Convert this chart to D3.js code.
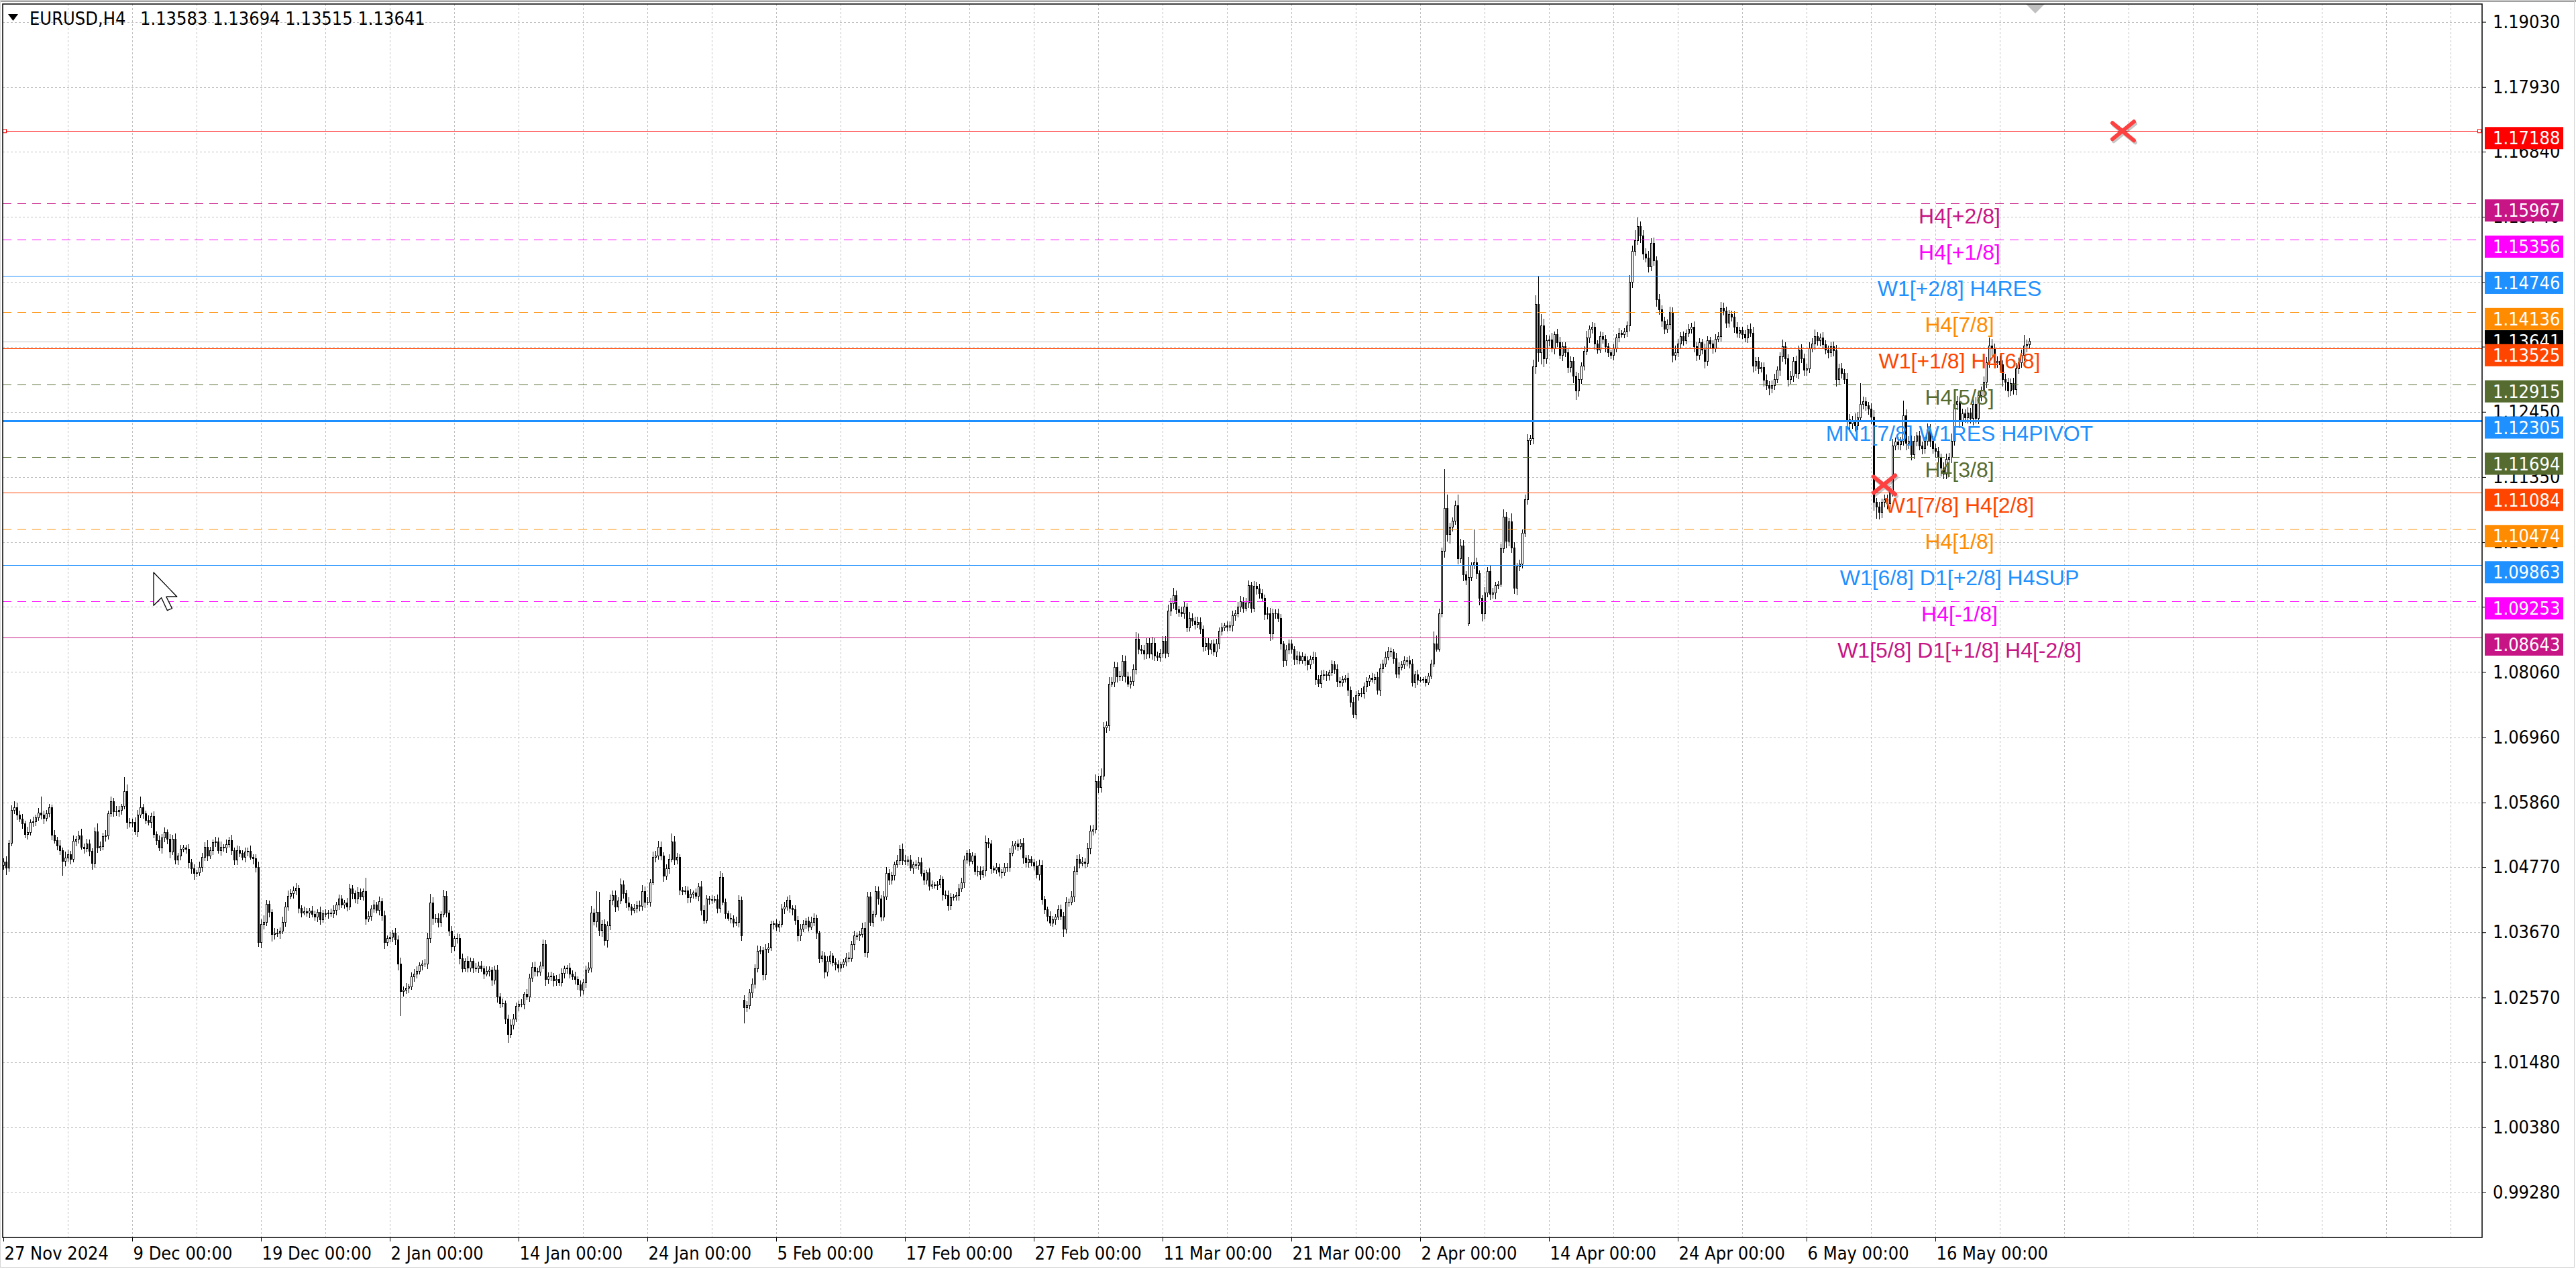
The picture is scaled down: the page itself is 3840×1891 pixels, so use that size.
<!DOCTYPE html>
<html>
<head>
<meta charset="utf-8">
<title>EURUSD,H4</title>
<script src="https://cdn.jsdelivr.net/npm/d3@7"></script>
<style>
  html, body { margin: 0; padding: 0; background: #ffffff; }
  svg { display: block; }
  .axis text, .quote { font-family: "DejaVu Sans Condensed", "Liberation Sans", sans-serif; font-size: 27px; fill: #000; }
  .lvl-text { font-family: "Liberation Sans", Arial, sans-serif; font-size: 32px; }
  .box-text { font-family: "DejaVu Sans Condensed", "Liberation Sans", sans-serif; font-size: 27px; fill: #fff; }
</style>
</head>
<body>
<div id="chart"></div>
<script>
var symbolName = "EURUSD,H4";
// open, high, low, close of the running bar (header quote)
var lastBar = [1.13583, 1.13694, 1.13515, 1.13641];
var firstOpen = 1.0480;
// opens after a weekend gap, keyed by bar number
var gapOpens = { 276: 1.0252, 546: 1.0888 };

// H4 closes in 1/10000, one row per 8 trading days (48 bars)
var closes = [
  10486,10475,10517,10573,10577,10565, 10558,10550,10532,10535,10552,10554, 10560,10568,10565,10559,10567,10577, 10531,10522,10513,10505,10487,10492, 10498,10490,10521,10524,10530,10511, 10508,10516,10504,10483,10537,10509, 10512,10529,10530,10567,10588,10570, 10571,10573,10579,10605,10552,10552,
  10552,10537,10565,10577,10567,10556, 10552,10562,10532,10522,10509,10526, 10535,10524,10502,10524,10489,10496, 10507,10509,10507,10484,10474,10466, 10467,10477,10494,10511,10496,10505, 10518,10520,10505,10511,10509,10515, 10522,10505,10489,10505,10500,10493, 10502,10504,10494,10491,10476,10350,
  10380,10384,10414,10401,10363,10365, 10365,10369,10384,10410,10428,10432, 10437,10441,10408,10400,10402,10399, 10403,10397,10393,10401,10388,10398, 10398,10400,10398,10404,10413,10423, 10413,10417,10410,10440,10432,10423, 10435,10427,10436,10389,10394,10406, 10413,10404,10419,10395,10350,10357,
  10359,10365,10354,10314,10267,10269, 10273,10275,10292,10296,10301,10311, 10314,10314,10357,10417,10390,10391, 10384,10397,10428,10399,10369,10343, 10356,10357,10322,10305,10318,10307, 10318,10307,10306,10310,10306,10297, 10301,10303,10286,10303,10258,10247, 10247,10221,10195,10211,10221,10242,
  10246,10246,10262,10258,10290,10308, 10301,10300,10310,10346,10288,10292, 10293,10285,10288,10282,10298,10305, 10307,10296,10292,10288,10278,10269, 10282,10303,10307,10399,10385,10401, 10370,10380,10353,10378,10421,10429, 10410,10420,10447,10432,10417,10410, 10404,10407,10412,10411,10436,10418,
  10418,10451,10494,10496,10511,10496, 10462,10474,10490,10520,10489,10493, 10438,10436,10437,10425,10431,10433, 10428,10444,10404,10387,10423,10422, 10422,10422,10408,10459,10418,10398, 10391,10389,10383,10384,10421,10361, 10240,10243,10265,10280,10305,10335, 10336,10295,10338,10341,10380,10381,
  10376,10380,10406,10410,10421,10408, 10405,10387,10361,10372,10380,10386, 10376,10384,10391,10365,10323,10327, 10300,10318,10327,10316,10312,10307, 10312,10317,10324,10323,10346,10361, 10361,10363,10374,10333,10427,10384, 10397,10436,10423,10393,10427,10466, 10455,10463,10481,10488,10507,10488,
  10487,10489,10475,10481,10480,10485, 10466,10455,10467,10445,10447,10447, 10447,10456,10430,10429,10412,10425, 10427,10429,10440,10451,10489,10500, 10487,10496,10470,10470,10464,10471, 10518,10516,10474,10472,10476,10469, 10467,10476,10477,10500,10513,10516, 10512,10517,10492,10484,10490,10484,
  10479,10464,10480,10422,10405,10394, 10383,10388,10393,10405,10394,10372, 10418,10418,10427,10470,10490,10483, 10486,10483,10508,10538,10540,10622, 10611,10631,10712,10715,10786,10789, 10814,10798,10799,10824,10798,10786, 10790,10811,10862,10844,10842,10836, 10855,10836,10855,10833,10831,10838,
  10858,10838,10909,10922,10935,10911, 10907,10905,10916,10881,10897,10892, 10886,10890,10879,10849,10855,10844, 10853,10840,10853,10875,10881,10884, 10882,10884,10901,10905,10916,10925, 10914,10923,10952,10914,10951,10946, 10938,10931,10903,10905,10870,10905, 10904,10896,10853,10825,10843,10853,
  10844,10827,10833,10825,10832,10825, 10818,10828,10831,10794,10787,10800, 10802,10800,10805,10818,10810,10790, 10788,10794,10796,10775,10755,10735, 10766,10770,10770,10781,10790,10796, 10794,10797,10775,10812,10820,10831, 10841,10840,10829,10803,10814,10818, 10825,10825,10820,10788,10801,10792,
  10792,10794,10788,10799,10820,10853, 10845,10905,11010,11082,11038,11051, 11061,11087,10997,11019,10970,10961, 10966,10986,10991,10972,10931,10905, 10940,10976,10937,10940,10952,10954, 11014,11068,11027,11060,11015,10948, 10984,10988,11040,11097,11197,11200, 11321,11427,11345,11390,11335,11365,
  11366,11352,11375,11362,11340,11355, 11345,11320,11330,11305,11280,11300, 11322,11347,11370,11385,11388,11360, 11350,11372,11368,11355,11345,11340, 11352,11370,11378,11375,11380,11390, 11464,11516,11534,11558,11542,11511, 11505,11490,11530,11500,11434,11417, 11398,11385,11392,11413,11340,11345,
  11360,11372,11365,11378,11385,11388, 11355,11340,11362,11350,11330,11365, 11360,11352,11368,11372,11420,11415, 11395,11410,11405,11388,11378,11382, 11375,11370,11385,11378,11322,11330, 11318,11320,11298,11290,11285,11290, 11300,11315,11338,11355,11335,11300, 11305,11330,11310,11350,11335,11315,
  11318,11352,11360,11372,11365,11370, 11358,11350,11345,11355,11348,11300, 11318,11310,11300,11232,11225,11230, 11222,11235,11258,11262,11255,11250, 11236,11092,11084,11075,11092,11097, 11090,11110,11187,11194,11190,11196, 11239,11192,11196,11173,11196,11204, 11187,11183,11196,11215,11196,11183,
  11178,11168,11150,11140,11165,11168, 11196,11258,11262,11230,11242,11235, 11243,11234,11258,11234,11272,11280, 11295,11328,11356,11352,11328,11330, 11324,11300,11295,11280,11293,11283, 11318,11328,11340,11356,11358,11364
];

// wick lengths above / below the body, in pips
var upperWicks = [
  6,9,5,8,11,9, 7,8,5,10,6,8, 5,9,28,7,6,7, 5,8,6,9,5,11, 8,6,9,5,8,12, 6,9,8,5,7,14, 8,6,9,5,8,6, 9,7,5,24,11,8,
  7,9,8,19,6,5, 8,7,9,5,8,7, 9,5,8,7,10,5, 8,6,5,9,7,8, 5,9,7,8,11,6, 5,8,7,9,5,8, 6,9,5,8,7,5, 8,6,9,5,8,10,
  9,12,8,6,5,9, 8,6,9,8,10,8, 7,9,6,5,8,6, 5,8,6,5,9,7, 8,5,7,9,5,8, 6,5,8,9,7,5, 8,6,5,23,8,7, 9,5,8,6,8,5,
  8,6,9,8,10,6, 8,5,7,9,8,5, 6,8,9,15,9,7, 8,5,11,8,6,9, 5,8,7,9,5,8, 6,5,8,7,9,5, 8,7,5,8,9,6, 8,5,7,9,8,6,
  6,8,5,9,7,8, 9,6,8,9,8,7, 8,5,7,9,8,6, 5,8,7,9,5,8, 6,8,9,12,8,35, 34,8,9,7,10,8, 9,6,11,8,7,9, 5,8,7,9,10,8,
  8,6,9,8,10,9, 6,8,9,14,9,8, 6,5,8,7,9,5, 8,6,9,8,7,5, 8,6,9,11,8,6, 5,8,7,9,8,6, 9,8,6,9,8,10, 8,6,9,8,7,5,
  8,6,9,8,6,9, 5,8,7,9,8,5, 7,9,8,6,5,8, 6,9,8,5,7,8, 6,5,8,9,7,8, 5,7,9,10,8,8, 7,9,8,6,9,11, 8,6,5,9,8,10,
  9,6,8,5,7,9, 8,6,5,8,7,5, 6,8,5,7,9,8, 5,6,9,8,7,5, 8,6,5,9,8,7, 12,8,6,5,8,7, 5,8,7,9,8,5, 7,8,9,6,8,5,
  7,8,9,8,6,5, 8,6,5,8,9,7, 8,6,9,8,7,9, 8,6,10,9,8,11, 9,12,10,8,11,9, 10,8,9,11,10,8, 9,8,11,9,8,10, 9,8,10,9,8,7,
  9,8,11,9,13,8, 7,9,8,6,10,8, 7,9,8,6,9,8, 7,8,9,6,8,5, 7,8,9,6,8,9, 7,8,9,6,8,7, 9,8,6,10,9,8, 7,9,8,6,9,8,
  8,6,9,8,7,5, 8,6,9,8,7,9, 8,6,5,8,7,9, 8,6,5,8,7,9, 8,6,9,8,7,5, 8,6,9,8,7,9, 8,6,5,9,8,7, 8,6,9,8,7,9,
  5,4,6,5,7,22, 15,8,6,66,23,7, 6,8,19,12,9,6, 34,5,56,8,6,5, 9,7,11,8,6,5, 9,12,8,6,14,10, 6,8,7,9,10,6, 12,15,47,20,12,10,
  8,12,6,10,9,7, 8,6,9,7,8,10, 7,9,12,6,8,7, 6,9,8,7,6,5, 7,6,8,5,6,7, 12,10,18,15,8,9, 10,12,8,9,7,10, 8,7,9,10,8,12,
  8,7,9,6,8,7, 9,8,7,6,10,8, 7,6,8,7,10,9, 8,7,6,9,8,7, 6,8,7,9,10,8, 7,9,8,10,7,8, 9,7,8,12,8,7, 9,8,10,7,9,8,
  8,10,9,12,8,7, 9,8,7,8,9,10, 8,9,7,10,9,8, 12,10,35,9,8,7, 9,12,8,9,7,8, 9,10,12,8,9,7, 25,10,8,9,8,7, 9,8,7,10,9,8,
  9,8,7,10,9,8, 12,15,10,9,8,7, 10,9,8,12,9,8, 10,9,14,12,8,9, 10,8,9,7,8,10, 9,8,10,19,9,6
];
var lowerWicks = [
  8,11,6,5,7,9, 5,8,6,9,5,7, 8,5,7,9,5,6, 9,5,8,7,25,9, 6,8,5,9,7,5, 8,6,9,11,7,8, 5,7,9,6,5,8, 7,9,8,5,10,8,
  8,6,9,5,8,7, 5,9,6,8,5,9, 7,8,10,5,7,9, 8,5,7,9,8,10, 6,5,8,7,9,5, 8,7,5,9,6,8, 5,7,9,8,6,5, 8,7,5,9,8,8,
  10,8,6,9,12,8, 6,9,5,8,6,5, 8,7,9,8,5,6, 8,5,7,9,8,5, 6,8,5,7,9,8, 5,6,8,5,9,7, 8,5,7,9,5,8, 6,5,8,9,11,6,
  7,9,8,11,41,8, 6,9,5,8,7,5, 8,6,9,8,10,7, 9,8,5,7,9,11, 7,8,9,6,5,8, 7,9,5,8,6,9, 5,8,9,7,10,8, 6,9,15,7,8,5,
  8,6,9,5,8,7, 9,8,6,5,11,8, 7,9,8,5,6,9, 8,7,5,9,8,10, 7,9,5,8,6,10, 9,11,8,12,7,8, 9,6,5,8,9,6, 8,5,7,9,8,10,
  6,8,5,9,7,8, 10,6,8,5,9,7, 8,6,5,9,8,7, 5,9,8,6,5,8, 7,5,9,8,6,8, 5,7,8,5,9,8, 27,8,6,9,8,6, 5,9,8,6,5,8,
  7,9,5,8,6,8, 9,7,10,8,5,7, 8,5,6,9,8,7, 11,8,5,7,9,8, 6,5,8,7,5,9, 7,8,5,8,9,6, 8,5,9,8,6,5, 8,7,9,5,8,7,
  7,8,5,9,6,8, 5,9,7,8,5,6, 8,5,9,6,8,7, 5,7,8,5,9,6, 8,5,7,9,8,5, 10,7,8,5,6,8, 9,5,7,8,5,6, 8,5,9,7,8,6,
  8,6,9,8,7,9, 5,7,8,5,6,13, 7,8,5,9,7,8, 5,8,6,9,8,6, 9,8,7,9,8,6, 8,9,7,8,9,6, 8,7,9,8,6,9, 8,7,9,8,6,8,
  8,9,6,8,9,7, 8,6,9,8,7,9, 8,6,9,8,7,9, 8,6,9,8,7,5, 8,6,9,8,7,9, 8,6,9,8,7,9, 8,6,9,8,11,9, 8,6,9,10,8,7,
  7,9,8,6,5,8, 9,7,8,10,6,8, 7,9,8,5,7,9, 8,6,5,9,8,7, 9,8,6,9,8,7, 5,8,7,9,8,6, 5,8,9,7,8,5, 7,9,8,6,9,8,
  4,5,6,4,5,6, 5,4,7,11,12,15, 8,6,9,7,11,8, 4,7,6,9,12,14, 10,8,9,7,11,6, 5,7,12,9,8,10, 12,8,7,6,9,8, 10,12,15,20,14,9,
  9,7,10,8,6,9, 7,10,8,12,15,9, 8,7,6,9,8,10, 7,6,8,9,7,6, 8,6,7,5,6,8, 9,10,8,7,12,9, 8,10,7,9,11,8, 10,9,7,8,12,8,
  7,9,8,6,7,8, 10,9,7,8,12,7, 8,9,7,6,8,7, 9,8,7,10,8,9, 7,8,9,7,10,8, 9,7,10,8,12,9, 8,7,9,8,10,12, 8,9,7,10,8,9,
  9,8,7,10,8,9, 7,8,10,8,9,12, 10,9,8,12,14,9, 10,8,7,9,8,10, 12,14,19,12,9,8, 10,9,8,7,9,10, 8,12,9,10,8,9, 7,10,9,8,10,9,
  10,12,14,9,8,10, 9,8,10,12,9,8, 10,9,12,8,10,9, 8,10,9,12,10,8, 9,12,14,10,8,9, 10,9,8,9,10,9
];

var xTickLabels = ["27 Nov 2024", "9 Dec 00:00", "19 Dec 00:00", "2 Jan 00:00", "14 Jan 00:00",
  "24 Jan 00:00", "5 Feb 00:00", "17 Feb 00:00", "27 Feb 00:00", "11 Mar 00:00", "21 Mar 00:00",
  "2 Apr 00:00", "14 Apr 00:00", "24 Apr 00:00", "6 May 00:00", "16 May 00:00"];
var yTickValues = [1.19030, 1.17930, 1.16840, 1.15740, 1.14640, 1.13550, 1.12450, 1.11350, 1.10250,
  1.09160, 1.08060, 1.06960, 1.05860, 1.04770, 1.03670, 1.02570, 1.01480, 1.00380, 0.99280];

var levelPrices = [1.17188, 1.15967, 1.15356, 1.14746, 1.14136, 1.13525, 1.12915, 1.12305,
  1.11694, 1.11084, 1.10474, 1.09863, 1.09253, 1.08643];
var levelNames = ["", "H4[+2/8]", "H4[+1/8]", "W1[+2/8] H4RES", "H4[7/8]", "W1[+1/8] H4[6/8]",
  "H4[5/8]", "MN1[7/8] W1RES H4PIVOT", "H4[3/8]", "W1[7/8] H4[2/8]", "H4[1/8]",
  "W1[6/8] D1[+2/8] H4SUP", "H4[-1/8]", "W1[5/8] D1[+1/8] H4[-2/8]"];
// [bar, price] of the two cross marks
var crossMarks = [[701, 1.1122], [790, 1.17188]];

// styling of the levels
var levelColors = ["#ff0000", "#c71585", "#ff00ff", "#1e90ff", "#ff8c00", "#ff4500", "#556b2f",
  "#1e90ff", "#556b2f", "#ff4500", "#ff8c00", "#1e90ff", "#ff00ff", "#c71585"];
var levelDashed = [false, true, true, false, true, false, true, false, true, false, true, false, true, false];
var levelWidths = [1.2, 1.2, 1.2, 1.2, 1.2, 1.2, 1.2, 3, 1.2, 1.2, 1.2, 1.2, 1.2, 1.2];

var W = 3840, H = 1891;
var plot = { left: 4, top: 6, right: 3700, bottom: 1844 };
var barStep = 4;
var barsPerLabel = 48, barsPerGrid = 24;
var labelCenterX = 2921;

var x = d3.scaleLinear().domain([0, 1]).range([plot.left + 1, plot.left + 1 + barStep]);
var y = d3.scaleLinear().domain([0.98521, 1.19331]).range([plot.bottom, plot.top]);

function buildBars() {
    var out = closes.map(function(c, i) {
        var close = c / 10000;
        var open = i === 0 ? firstOpen : (gapOpens[i] || closes[i - 1] / 10000);
        var up = upperWicks[i] === undefined ? 5 : upperWicks[i];
        var dn = lowerWicks[i] === undefined ? 5 : lowerWicks[i];
        return { i: i, o: open, c: close,
                 h: Math.max(open, close) + up / 10000,
                 l: Math.min(open, close) - dn / 10000 };
    });
    var last = out[out.length - 1];
    last.o = lastBar[0]; last.h = lastBar[1]; last.l = lastBar[2]; last.c = lastBar[3];
    return out;
}
var bars = buildBars();

var svg = d3.select("#chart").append("svg")
        .attr("width", W).attr("height", H)
        .attr("viewBox", "0 0 " + W + " " + H);
svg.append("rect").attr("width", W).attr("height", H).attr("fill", "#fff");
// window chrome
svg.append("rect").attr("x", 0).attr("y", 0).attr("width", W).attr("height", 3).attr("fill", "#a0a0a0");
svg.append("rect").attr("x", 0.5).attr("y", 0.5).attr("width", W - 3).attr("height", H - 3)
        .attr("fill", "none").attr("stroke", "#d4d4d4");

svg.append("clipPath").attr("id", "plotClip").append("rect")
        .attr("x", plot.left).attr("y", plot.top)
        .attr("width", plot.right - plot.left).attr("height", plot.bottom - plot.top);
var g = svg.append("g").attr("clip-path", "url(#plotClip)");

// grid
var gridX = d3.range(barsPerGrid, Math.floor((plot.right - 5) / barStep), barsPerGrid);
g.selectAll(".gx").data(gridX).enter().append("line")
        .attr("x1", function(d) { return Math.round(x(d)) + 0.5; })
        .attr("x2", function(d) { return Math.round(x(d)) + 0.5; })
        .attr("y1", plot.top).attr("y2", plot.bottom)
        .attr("stroke", "#c0c0c0").attr("stroke-dasharray", "3,3");
g.selectAll(".gy").data(yTickValues).enter().append("line")
        .attr("x1", plot.left).attr("x2", plot.right)
        .attr("y1", function(d) { return Math.round(y(d)) + 0.5; })
        .attr("y2", function(d) { return Math.round(y(d)) + 0.5; })
        .attr("stroke", "#c0c0c0").attr("stroke-dasharray", "3,3");

// bid line
g.append("line").attr("x1", plot.left).attr("x2", plot.right)
        .attr("y1", Math.round(y(lastBar[3])) + 0.5).attr("y2", Math.round(y(lastBar[3])) + 0.5)
        .attr("stroke", "#c0c0c0");

// candles
var candle = g.append("g").attr("shape-rendering", "crispEdges")
        .selectAll(".bar").data(bars).enter().append("g");
candle.append("line")
        .attr("x1", function(d) { return Math.round(x(d.i)) + 0.5; })
        .attr("x2", function(d) { return Math.round(x(d.i)) + 0.5; })
        .attr("y1", function(d) { return y(d.h); })
        .attr("y2", function(d) { return y(d.l); })
        .attr("stroke", "#000");
candle.append("rect")
        .attr("x", function(d) { return Math.round(x(d.i)) - 0.5; })
        .attr("width", 2)
        .attr("y", function(d) { return y(Math.max(d.o, d.c)); })
        .attr("height", function(d) { return Math.max(Math.abs(y(d.o) - y(d.c)), 0.6); })
        .attr("fill", function(d) { return d.c >= d.o ? "#fff" : "#000"; })
        .attr("stroke", "#000");

// levels
var levels = levelPrices.map(function(p, k) {
    return { p: p, name: levelNames[k], color: levelColors[k], dashed: levelDashed[k], w: levelWidths[k] };
});
g.selectAll(".lvl").data(levels).enter().append("line")
        .attr("x1", plot.left).attr("x2", plot.right)
        .attr("y1", function(d) { return Math.round(y(d.p)) + 0.5; })
        .attr("y2", function(d) { return Math.round(y(d.p)) + 0.5; })
        .attr("stroke", function(d) { return d.color; })
        .attr("stroke-width", function(d) { return d.w; })
        .attr("stroke-dasharray", function(d) { return d.dashed ? "13,9" : null; });
g.selectAll(".lvl-text").data(levels.filter(function(d) { return d.name; })).enter().append("text")
        .attr("class", "lvl-text")
        .attr("x", labelCenterX)
        .attr("y", function(d) { return y(d.p) + 30; })
        .attr("text-anchor", "middle")
        .attr("fill", function(d) { return d.color; })
        .text(function(d) { return d.name; });

// anchors of the red line
[plot.left + 3, plot.right - 4].forEach(function(px) {
    g.append("rect").attr("x", px - 2.5).attr("y", y(levelPrices[0]) - 2.5)
            .attr("width", 5).attr("height", 5)
            .attr("fill", "#fff").attr("stroke", "#ff0000");
});

// cross marks
var marks = g.selectAll(".cross").data(crossMarks).enter().append("g")
        .attr("transform", function(d) { return "translate(" + x(d[0]) + "," + y(d[1]) + ")"; });
marks.append("path").attr("d", "M-16,-12L16,14M16,-14L-16,12").attr("transform", "translate(2,3)")
        .attr("stroke", "rgba(0,0,0,0.22)").attr("stroke-width", 6).attr("stroke-linecap", "round");
marks.append("path").attr("d", "M-16,-12L16,14M16,-14L-16,12")
        .attr("stroke", "#ff4040").attr("stroke-width", 6).attr("stroke-linecap", "round");

// chart shift marker
svg.append("path")
        .attr("d", "M3020," + plot.top + "L3048," + plot.top + "L3034," + (plot.top + 14) + "Z")
        .attr("fill", "#c0c0c0");

// frame
svg.append("rect").attr("x", plot.left).attr("y", plot.top)
        .attr("width", plot.right - plot.left).attr("height", plot.bottom - plot.top)
        .attr("fill", "none").attr("stroke", "#000").attr("stroke-width", 1.5);

// axes
var yAxis = d3.axisRight(y).tickValues(yTickValues).tickSize(6).tickPadding(10)
        .tickFormat(d3.format(".5f"));
var ya = svg.append("g").attr("class", "axis").attr("transform", "translate(" + plot.right + ",0)").call(yAxis);
ya.select(".domain").remove();
ya.selectAll("text").attr("font-family", null).attr("font-size", null);

var xAxis = d3.axisBottom(x).tickValues(xTickLabels.map(function(t, k) { return k * barsPerLabel; }))
        .tickSize(6).tickPadding(8)
        .tickFormat(function(d, k) { return xTickLabels[k]; });
var xa = svg.append("g").attr("class", "axis").attr("transform", "translate(0," + plot.bottom + ")").call(xAxis);
xa.select(".domain").remove();
xa.selectAll("text").attr("text-anchor", "start").attr("x", 1)
        .attr("font-family", null).attr("font-size", null);

// price boxes on the scale
var boxX = plot.right + 4, boxW = 117, boxH = 33;
svg.append("rect").attr("x", boxX).attr("y", y(lastBar[3]) - boxH / 2)
        .attr("width", boxW).attr("height", boxH).attr("fill", "#000");
svg.append("text").attr("class", "box-text").attr("x", plot.right + 16).attr("y", y(lastBar[3]))
        .attr("dy", "0.36em").text(d3.format(".5f")(lastBar[3]));

var boxes = svg.selectAll(".lvl-box").data(levels).enter().append("g");
boxes.append("rect").attr("x", boxX)
        .attr("y", function(d) { return y(d.p) - 6; })
        .attr("width", boxW).attr("height", boxH)
        .attr("fill", function(d) { return d.color; });
boxes.append("text").attr("class", "box-text").attr("x", plot.right + 16)
        .attr("y", function(d) { return y(d.p) - 6 + boxH / 2; })
        .attr("dy", "0.36em")
        .text(function(d) { return d3.format(".5f")(d.p); });

// header
svg.append("path").attr("d", "M12,21L27,21L19.5,31Z").attr("fill", "#000");
svg.append("text").attr("class", "quote").attr("x", 44).attr("y", 27).attr("dy", "0.36em").text(symbolName);
svg.append("text").attr("class", "quote").attr("x", 209).attr("y", 27).attr("dy", "0.36em")
        .text(lastBar.map(d3.format(".5f")).join(" "));

// mouse pointer
svg.append("path")
        .attr("d", "M0,0L0,17L4,13L7,19.5L9.5,18.5L6.5,12.5L12,12.5Z")
        .attr("transform", "translate(229,853) scale(2.9)")
        .attr("fill", "#fff").attr("stroke", "#000").attr("stroke-width", 0.45)
        .attr("stroke-linejoin", "round");
</script>
</body>
</html>
